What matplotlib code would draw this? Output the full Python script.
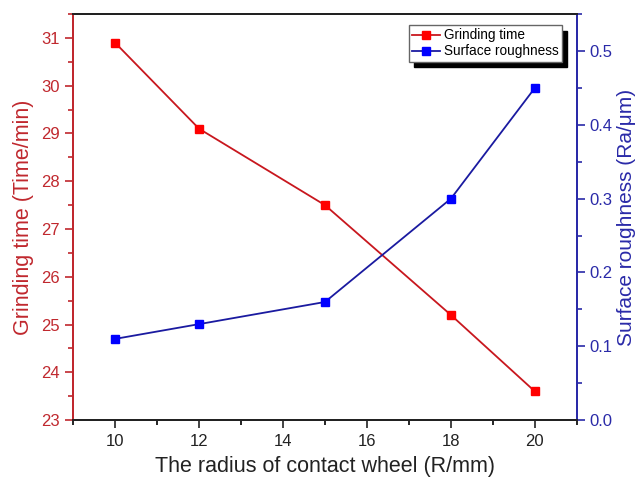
import matplotlib
matplotlib.use("Agg")
import matplotlib.pyplot as plt
from matplotlib.ticker import MultipleLocator

plt.rcParams["font.family"] = ["Liberation Sans", "DejaVu Sans"]

radius = [10, 12, 15, 18, 20]
grinding_time = [30.9, 29.1, 27.5, 25.2, 23.6]
roughness = [0.11, 0.13, 0.16, 0.30, 0.45]

RED_LINE = "#c8171e"
RED_AXIS = "#c0282e"
BLUE_LINE = "#1a1aa0"
BLUE_AXIS = "#2a2aa8"

fig = plt.figure(figsize=(6.41, 4.84), dpi=100)
ax = fig.add_axes([0.114, 0.132, 0.786, 0.839])
ax2 = ax.twinx()

l1, = ax.plot(radius, grinding_time, color=RED_LINE, linewidth=1.3,
              marker="s", markersize=5.5, markerfacecolor="#ff0000",
              markeredgecolor="#ff0000", label="Grinding time")
l2, = ax2.plot(radius, roughness, color=BLUE_LINE, linewidth=1.3,
               marker="s", markersize=5.5, markerfacecolor="#0000ff",
               markeredgecolor="#0000ff", label="Surface roughness")

ax.set_xlim(9, 21)
ax.set_ylim(23, 31.5)
ax2.set_ylim(0, 0.55)

ax.xaxis.set_major_locator(MultipleLocator(2))
ax.xaxis.set_minor_locator(MultipleLocator(1))
ax.yaxis.set_major_locator(MultipleLocator(1))
ax.yaxis.set_minor_locator(MultipleLocator(0.5))
ax2.yaxis.set_major_locator(MultipleLocator(0.1))
ax2.yaxis.set_minor_locator(MultipleLocator(0.05))

ax.tick_params(axis="x", which="major", direction="out", length=6, width=1.2,
               labelsize=12, colors="#222222", pad=4)
ax.tick_params(axis="x", which="minor", direction="out", length=3.5, width=1.2)
ax.tick_params(axis="y", which="major", direction="out", length=6, width=1.2,
               labelsize=12, colors=RED_AXIS)
ax.tick_params(axis="y", which="minor", direction="out", length=3.5, width=1.2,
               colors=RED_AXIS)
ax2.tick_params(axis="y", which="major", direction="out", length=6, width=1.2,
                labelsize=12, colors=BLUE_AXIS, pad=3)
ax2.tick_params(axis="y", which="minor", direction="out", length=3.5, width=1.2,
                colors=BLUE_AXIS)

for a in (ax, ax2):
    a.spines["top"].set_color("#222222")
    a.spines["bottom"].set_color("#222222")
    a.spines["left"].set_color(RED_AXIS)
    a.spines["right"].set_color(BLUE_AXIS)
    for s in a.spines.values():
        s.set_linewidth(1.4)

ax.set_xlabel("The radius of contact wheel (R/mm)", fontsize=15.5, color="#222222", labelpad=5)
ax.set_ylabel("Grinding time (Time/min)", fontsize=15.5, color=RED_AXIS, labelpad=5)
ax2.set_ylabel("Surface roughness (Ra/\u03bcm)", fontsize=15, color=BLUE_AXIS, labelpad=3)

leg = ax.legend(handles=[l1, l2], loc="upper right", bbox_to_anchor=(0.97, 0.973),
                fontsize=9.8, frameon=True, fancybox=False, framealpha=1,
                edgecolor="#666666", handlelength=2.0, handletextpad=0.3,
                borderpad=0.25, labelspacing=0.15, borderaxespad=0,
                shadow={"color": "black", "alpha": 1, "ox": 4, "oy": -4})
leg.get_frame().set_linewidth(1.0)

fig.savefig("out.png", dpi=100)
